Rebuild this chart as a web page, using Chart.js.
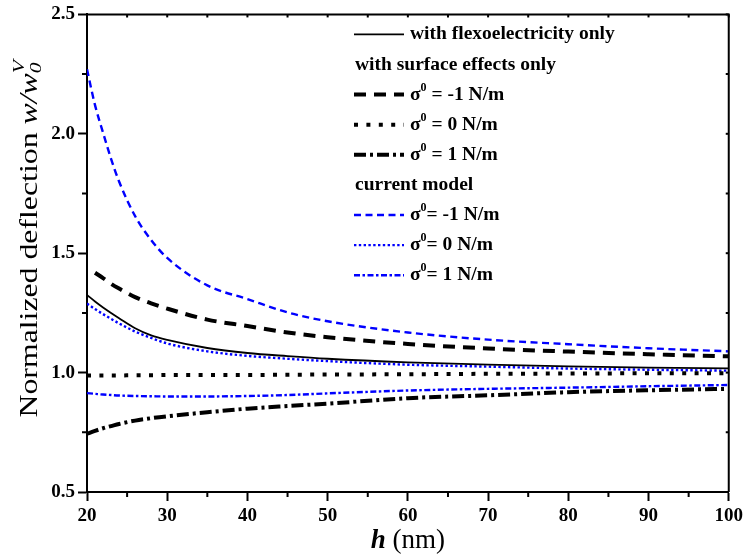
<!DOCTYPE html>
<html>
<head>
<meta charset="utf-8">
<script src="https://cdn.jsdelivr.net/npm/chart.js@4.4.1/dist/chart.umd.min.js"></script>
<style>
  html, body { margin: 0; padding: 0; background: #fff; }
  #wrap { width: 747px; height: 555px; }
</style>
</head>
<body>
<div id="wrap"><canvas id="chart"></canvas></div>
<script>
// h (nm)
const hValues = [20, 21, 22, 23, 24, 26, 28, 30, 35, 40, 45, 50, 60, 70, 80, 90, 100];

const flexoOnly     = [1.325, 1.298, 1.273, 1.250, 1.228, 1.186, 1.156, 1.137, 1.103, 1.082, 1.069, 1.058, 1.043, 1.033, 1.026, 1.021, 1.018];
const surfaceNeg    = [null, 1.418, 1.396, 1.372, 1.352, 1.316, 1.290, 1.268, 1.222, 1.195, 1.168, 1.148, 1.120, 1.101, 1.088, 1.077, 1.068];
const surfaceZero   = [0.988, 0.988, 0.988, 0.988, 0.988, 0.989, 0.989, 0.990, 0.990, 0.990, 0.991, 0.992, 0.993, 0.995, 0.996, 0.997, 0.997];
const surfacePos    = [0.744, 0.756, 0.767, 0.776, 0.785, 0.799, 0.809, 0.817, 0.834, 0.849, 0.860, 0.870, 0.893, 0.905, 0.918, 0.926, 0.932];
const currentNeg    = [2.270, 2.120, 2.005, 1.895, 1.800, 1.655, 1.555, 1.480, 1.365, 1.308, 1.252, 1.215, 1.168, 1.138, 1.119, 1.102, 1.089];
const currentZero   = [1.289, 1.266, 1.245, 1.225, 1.206, 1.172, 1.145, 1.122, 1.089, 1.070, 1.058, 1.048, 1.033, 1.025, 1.017, 1.012, 1.008];
const currentPos    = [0.914, 0.911, 0.908, 0.906, 0.904, 0.902, 0.901, 0.900, 0.900, 0.902, 0.906, 0.913, 0.925, 0.932, 0.937, 0.943, 0.948];

const xTicks = [20, 30, 40, 50, 60, 70, 80, 90, 100];
const yTicks = [0.5, 1.0, 1.5, 2.0, 2.5];

// legend rows: heading (ds null) or sample line + label
const legendRows = [
    { ds: 0, sigma: false, text: 'with flexoelectricity only' },
    { ds: null, sigma: false, text: 'with surface effects only' },
    { ds: 1, sigma: true, text: ' = -1 N/m' },
    { ds: 2, sigma: true, text: ' = 0 N/m' },
    { ds: 3, sigma: true, text: ' = 1 N/m' },
    { ds: null, sigma: false, text: 'current model' },
    { ds: 4, sigma: true, text: '= -1 N/m' },
    { ds: 5, sigma: true, text: '= 0 N/m' },
    { ds: 6, sigma: true, text: '= 1 N/m' }
];

const SERIF = '"Liberation Serif", "Times New Roman", serif';
const BLUE = 'rgb(0, 0, 255)';

function toPoints(arr) {
    return hValues.map((h, i) => ({ x: h, y: arr[i] }));
}

function line(data, color, width, dash) {
    return {
        data: toPoints(data),
        borderColor: color,
        borderWidth: width,
        borderDash: dash,
        pointRadius: 0,
        fill: false,
        cubicInterpolationMode: 'monotone',
        spanGaps: false
    };
}

const datasets = [
    line(flexoOnly, '#000', 1.8, []),
    line(surfaceNeg, '#000', 4, [12, 8]),
    line(surfaceZero, '#000', 4, [4, 8.4]),
    line(surfacePos, '#000', 4, [12, 4, 3, 4]),
    line(currentNeg, BLUE, 2.4, [7, 4.5]),
    line(currentZero, BLUE, 2.4, [2.4, 2.4]),
    line(currentPos, BLUE, 2.4, [6, 2.5, 2.5, 2.5])
];

function drawParts(ctx, x, y, parts) {
    parts.forEach(p => {
        ctx.font = p.font;
        ctx.fillText(p.text, x, y + (p.dy || 0));
        if (!p.stack) x += ctx.measureText(p.text).width;
    });
    return x;
}

function partsWidth(ctx, parts) {
    let w = 0;
    parts.forEach(p => {
        ctx.font = p.font;
        if (!p.stack) w += ctx.measureText(p.text).width;
    });
    return w;
}

const decorPlugin = {
    id: 'decor',
    afterDraw(chart) {
        const ctx = chart.ctx;
        const area = chart.chartArea;
        const xs = chart.scales.x;
        const ys = chart.scales.y;
        ctx.save();

        // box on top and right
        ctx.strokeStyle = '#000';
        ctx.lineWidth = 2;
        ctx.setLineDash([]);
        ctx.beginPath();
        ctx.moveTo(area.left, area.top);
        ctx.lineTo(area.right, area.top);
        ctx.lineTo(area.right, area.bottom);
        ctx.stroke();

        // minor ticks outside, small ticks on top/right
        for (let v = 20; v <= 100; v += 5) {
            const px = xs.getPixelForValue(v);
            ctx.beginPath();
            if (v % 10 !== 0) {
                ctx.moveTo(px, area.bottom);
                ctx.lineTo(px, area.bottom + 5);
            }
            ctx.moveTo(px, area.top);
            ctx.lineTo(px, area.top + 3);
            ctx.stroke();
        }
        for (let v = 0.5; v <= 2.5; v += 0.25) {
            const py = ys.getPixelForValue(v);
            ctx.beginPath();
            if (Math.abs(v * 2 - Math.round(v * 2)) > 0.01) {
                ctx.moveTo(area.left, py);
                ctx.lineTo(area.left - 5, py);
            }
            ctx.moveTo(area.right, py);
            ctx.lineTo(area.right - 3, py);
            ctx.stroke();
        }

        // legend
        ctx.fillStyle = '#000';
        ctx.textBaseline = 'middle';
        ctx.textAlign = 'left';
        const x0 = area.left + 267, x1 = area.left + 317, tx = area.left + 323;
        const legendFont = 'bold 19.5px ' + SERIF;
        legendRows.forEach((row, i) => {
            const y = area.top + 20 + i * 30.1;
            if (row.ds !== null) {
                const ds = chart.data.datasets[row.ds];
                ctx.beginPath();
                ctx.strokeStyle = ds.borderColor;
                ctx.lineWidth = ds.borderWidth;
                ctx.setLineDash(ds.borderDash);
                ctx.moveTo(x0, y);
                ctx.lineTo(x1, y);
                ctx.stroke();
                ctx.setLineDash([]);
            }
            const startX = row.ds === null ? x0 + 1 : tx;
            const parts = [];
            if (row.sigma) {
                parts.push({ text: 'σ', font: legendFont });
                parts.push({ text: '0', font: 'bold 12px ' + SERIF, dy: -7 });
            }
            parts.push({ text: row.text, font: legendFont });
            drawParts(ctx, startX, y, parts);
        });

        // y title (stretched along its length like the original)
        ctx.save();
        ctx.textBaseline = 'alphabetic';
        ctx.translate(37, 240);
        ctx.rotate(-Math.PI / 2);
        const yParts = [
            { text: 'Normalized deflection ', font: '25px ' + SERIF },
            { text: 'w/w', font: 'italic 25px ' + SERIF },
            { text: 'V', font: 'italic 17px ' + SERIF, dy: -13, stack: true },
            { text: '0', font: 'italic 17px ' + SERIF, dy: 4 }
        ];
        const yw = partsWidth(ctx, yParts);
        ctx.scale(355 / yw, 1);
        drawParts(ctx, -yw / 2, 0, yParts);
        ctx.restore();

        // x title
        const xParts = [
            { text: 'h', font: 'bold italic 27px ' + SERIF },
            { text: ' (nm)', font: '27px ' + SERIF }
        ];
        const cx = (area.left + area.right) / 2;
        drawParts(ctx, cx - partsWidth(ctx, xParts) / 2, 541, xParts);

        ctx.restore();
    }
};

const ctx = document.getElementById('chart').getContext('2d');
new Chart(ctx, {
    type: 'line',
    data: { datasets: datasets },
    options: {
        responsive: true,
        maintainAspectRatio: false,
        animation: false,
        layout: { padding: { top: 13, right: 16, left: 0, bottom: 0 } },
        plugins: {
            legend: { display: false },
            tooltip: { enabled: false }
        },
        scales: {
            x: {
                type: 'linear',
                min: xTicks[0],
                max: xTicks[xTicks.length - 1],
                afterBuildTicks: scale => { scale.ticks = xTicks.map(v => ({ value: v })); },
                afterFit: scale => { scale.height = 63; },
                ticks: {
                    color: '#000',
                    padding: 4,
                    maxRotation: 0,
                    font: { family: SERIF, size: 19, weight: 'bold' }
                },
                grid: { drawOnChartArea: false, drawTicks: true, tickLength: 9, tickWidth: 2, tickColor: '#000' },
                border: { display: true, width: 2, color: '#000' }
            },
            y: {
                type: 'linear',
                min: yTicks[0],
                max: yTicks[yTicks.length - 1],
                afterBuildTicks: scale => { scale.ticks = yTicks.map(v => ({ value: v })); },
                afterFit: scale => { scale.width = 87; },
                ticks: {
                    color: '#000',
                    padding: 3,
                    callback: v => v.toFixed(1),
                    font: { family: SERIF, size: 19, weight: 'bold' }
                },
                grid: { drawOnChartArea: false, drawTicks: true, tickLength: 9, tickWidth: 2, tickColor: '#000' },
                border: { display: true, width: 2, color: '#000' }
            }
        }
    },
    plugins: [decorPlugin]
});
</script>
</body>
</html>
